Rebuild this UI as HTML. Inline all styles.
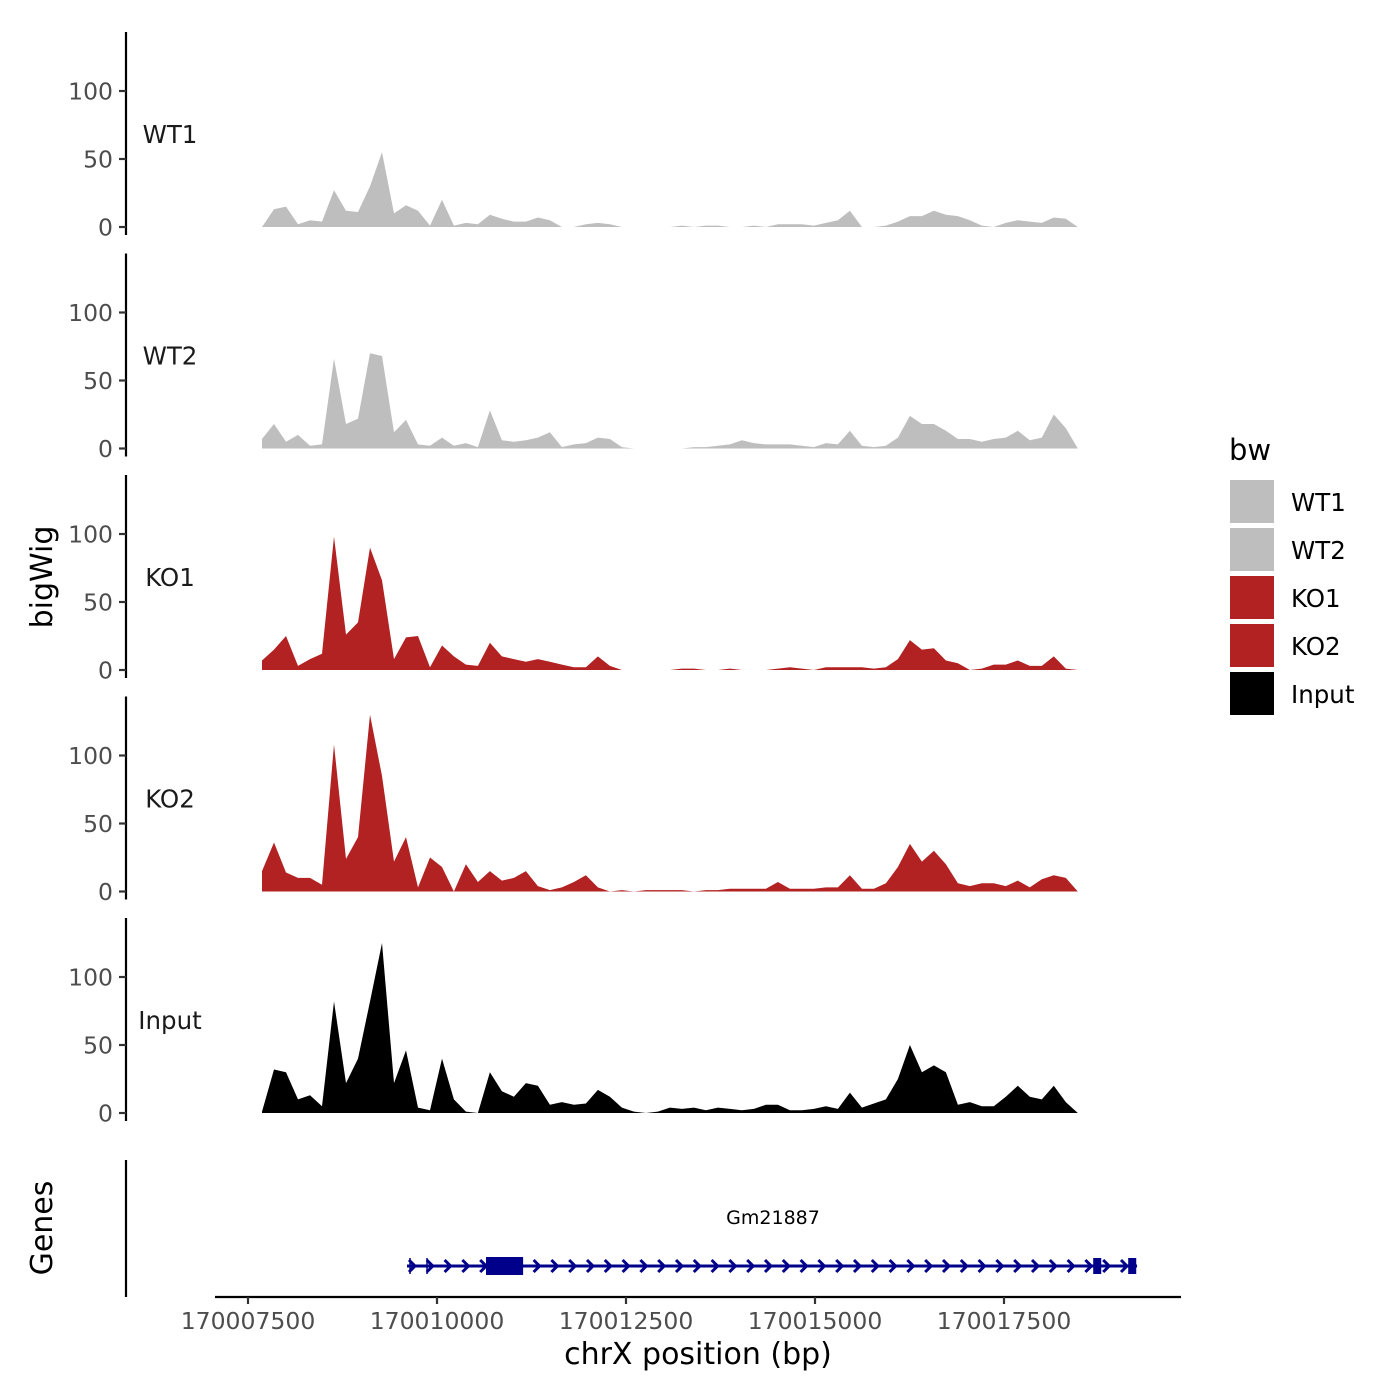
<!DOCTYPE html>
<html><head><meta charset="utf-8"><style>
html,body{margin:0;padding:0;background:#fff;}
svg{display:block;font-family:"DejaVu Sans","Liberation Sans",sans-serif;}
</style></head><body>
<svg id="chart" width="1400" height="1400" viewBox="0 0 1400 1400">
<rect width="1400" height="1400" fill="#fff"/>
<g id="tracks"></g>
<g id="axes"></g>
<g id="genes"></g>
<text x="52" y="577" transform="rotate(-90 52 577)" text-anchor="middle" font-size="30" fill="#000">bigWig</text>
<text x="52" y="1228" transform="rotate(-90 52 1228)" text-anchor="middle" font-size="30" fill="#000">Genes</text>
<text x="698" y="1364" text-anchor="middle" font-size="30" fill="#000">chrX position (bp)</text>
<g>
<text x="1229" y="460" font-size="29" fill="#000">bw</text>
<g id="legend-items"></g>
</g>
</svg>
<script>
const trackNames = ["WT1","WT2","KO1","KO2","Input"];
const trackColors = ["#bebebe","#bebebe","#b22222","#b22222","#000000"];
const binStart = 170007685;
const binStep = 158.7;
const wt1Values = [0,13,15,2,5,4,27,12,11,30,55,10,16,12,1,20,1,3,2,9,6,4,4,7,5,0,0,2,3,2,0,0,0,0,0,1,0,1,1,0,0,1,0,2,2,2,1,3,5,12,0,0,1,4,8,8,12,9,8,5,1,0,3,5,4,3,7,6,0];
const wt2Values = [7,18,5,10,2,3,66,18,22,70,68,12,21,3,2,8,2,4,1,28,6,5,6,8,12,1,3,4,8,7,1,0,0,0,0,0,1,1,2,3,6,4,3,3,3,2,1,4,3,13,2,1,2,8,24,18,18,13,7,7,5,7,8,13,6,8,25,15,0];
const ko1Values = [7,15,25,3,8,12,98,26,35,90,66,8,24,25,2,18,10,4,3,20,10,8,6,8,6,4,2,2,10,3,0,0,0,0,0,1,1,0,0,1,0,0,0,1,2,1,0,2,2,2,2,1,2,8,22,15,16,7,5,0,1,4,4,7,3,3,10,1,0];
const ko2Values = [15,36,14,10,10,5,108,24,40,130,85,22,40,3,25,18,0,20,7,15,8,10,15,4,1,3,7,12,3,0,1,0,1,1,1,1,0,1,1,2,2,2,2,7,2,2,2,3,3,12,2,2,6,18,35,22,30,20,6,4,6,6,4,8,3,9,12,10,0];
const inputValues = [1,32,30,10,13,5,82,22,40,82,125,22,46,4,2,40,10,1,0,30,16,12,22,20,6,8,6,7,17,12,4,1,0,1,4,3,4,2,4,3,2,3,6,6,2,2,3,5,3,15,4,7,10,25,50,30,35,30,6,8,5,5,12,20,12,10,20,8,0];
const seriesValues = [wt1Values,wt2Values,ko1Values,ko2Values,inputValues];
const yTicks = [0,50,100];
const xTicks = [170007500,170010000,170012500,170015000,170017500];
const geneName = "Gm21887";
const geneStart = 170009603, geneEnd = 170019260;
const exonStarts = [170010648,170018680,170019143];
const exonEnds = [170011139,170018786,170019249];
const markerPos = [170009643,170009868];

const NS="http://www.w3.org/2000/svg";
function mk(tag,attrs,parent){const e=document.createElementNS(NS,tag);for(const k in attrs)e.setAttribute(k,attrs[k]);parent.appendChild(e);return e;}
function xScale(bp){return 248+(bp-170007500)/2500*189;}
function zeroY(k){return 227+221.5*k;}
function yScale(v,k){return zeroY(k)-v*1.36;}

const tracks=document.getElementById('tracks');
const axes=document.getElementById('axes');
seriesValues.forEach((vals,k)=>{
  let d="M"+xScale(binStart).toFixed(1)+","+zeroY(k);
  vals.forEach((v,i)=>{d+=" L"+xScale(binStart+binStep*i).toFixed(1)+","+yScale(v,k).toFixed(1);});
  d+=" L"+xScale(binStart+binStep*(vals.length-1)).toFixed(1)+","+zeroY(k)+" Z";
  const p=mk('path',{d:d,fill:trackColors[k],stroke:"none"},tracks);
  
  
  const l=mk('line',{x1:126,x2:126,y1:zeroY(k)-195,y2:zeroY(k)+8,stroke:"#000","stroke-width":2.2},axes);
  
  
  yTicks.forEach(t=>{
    const tk=mk('line',{x1:119,x2:126,y1:yScale(t,k),y2:yScale(t,k),stroke:"#333","stroke-width":2.2},axes);
    
    
    const tl=mk('text',{x:113,y:yScale(t,k)+8.5,"text-anchor":"end","font-size":23.5,fill:"#4d4d4d"},axes);
    tl.textContent=t;
    
    
  });
  const lab=mk('text',{x:170,y:zeroY(k)-84,"text-anchor":"middle","font-size":24.5,fill:"#1a1a1a"},axes);
  lab.textContent=trackNames[k];
  
  
});
const ga=mk('line',{x1:126,x2:126,y1:1160,y2:1297,stroke:"#000","stroke-width":2.2},axes);


const xa=mk('line',{x1:215,x2:1181,y1:1297,y2:1297,stroke:"#000","stroke-width":2.2},axes);


xTicks.forEach(t=>{
  const tk=mk('line',{x1:xScale(t),x2:xScale(t),y1:1297,y2:1304,stroke:"#333","stroke-width":2.2},axes);
  
  
  const tl=mk('text',{x:xScale(t),y:1329,"text-anchor":"middle","font-size":23.5,fill:"#4d4d4d"},axes);
  tl.textContent=t;
  
  
});
const genes=document.getElementById('genes');
const gy=1266, col="#00008b";
const gl=mk('line',{x1:xScale(geneStart),x2:xScale(geneEnd),y1:gy,y2:gy,stroke:col,"stroke-width":3},genes);


for(let x=xScale(geneStart)+6;x<xScale(geneEnd)-2;x+=17.8){
  const c=mk('path',{d:`M${x-4},${gy-6} L${x+2},${gy} L${x-4},${gy+6}`,stroke:col,"stroke-width":3,fill:"none"},genes);
  
  
}
markerPos.forEach(m=>{
  const t=mk('line',{x1:xScale(m),x2:xScale(m),y1:gy-8,y2:gy+8,stroke:col,"stroke-width":1.5},genes);
  
  
});
exonStarts.forEach((s,i)=>{
  const h=i===0?18:16;
  const r=mk('rect',{x:xScale(s),y:gy-h/2,width:xScale(exonEnds[i])-xScale(s),height:h,fill:col},genes);
  
  
});
const gt=mk('text',{x:773,y:1224,"text-anchor":"middle","font-size":19,fill:"#000"},genes);
gt.textContent=geneName;


const li=document.getElementById('legend-items');
trackNames.forEach((n,i)=>{
  const y=480+48*i;
  const r=mk('rect',{x:1230,y:y,width:44,height:43,fill:trackColors[i]},li);
  
  
  const t=mk('text',{x:1291,y:y+31,"font-size":24.5,fill:"#000"},li);
  t.textContent=n;
  
  
});
</script>
</body></html>
